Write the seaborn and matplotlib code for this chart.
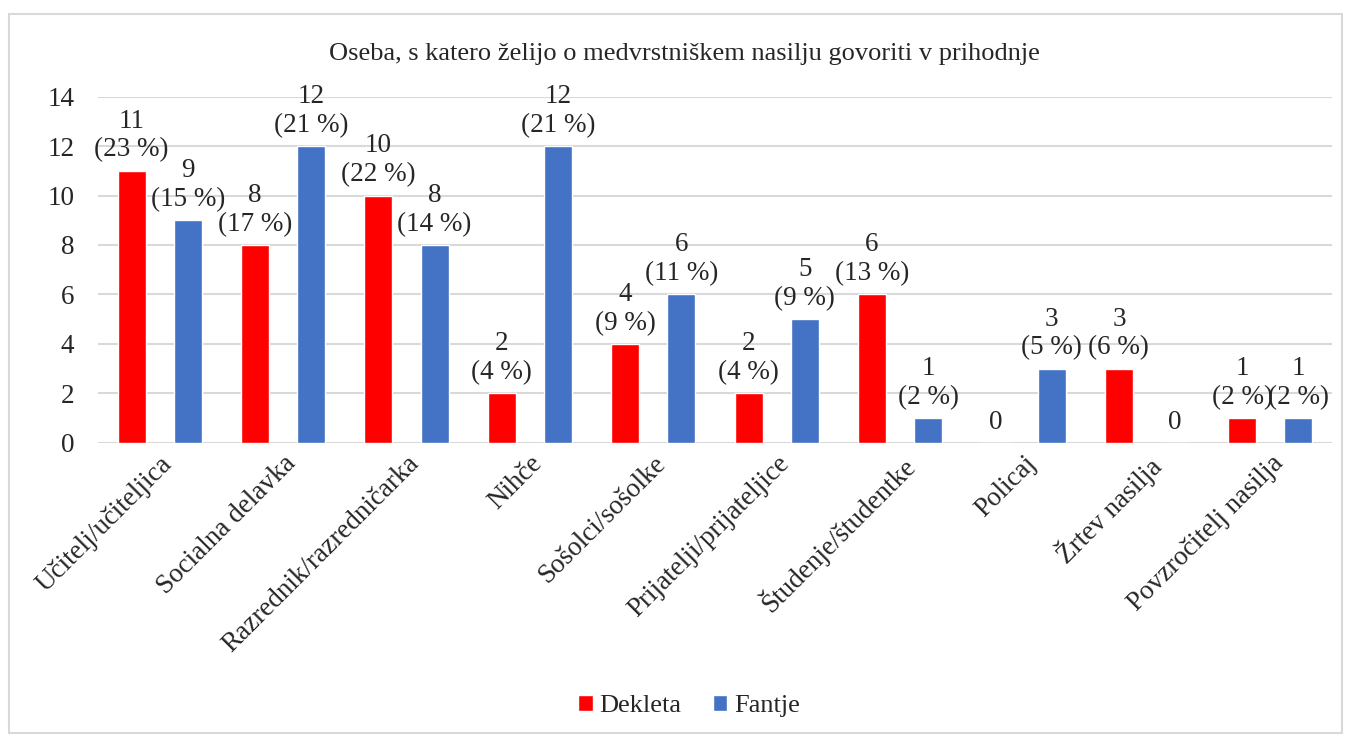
import matplotlib
matplotlib.use("Agg")
import matplotlib.pyplot as plt
import pandas as pd
import seaborn as sns
from matplotlib.patches import Rectangle

categories = [
    "Učitelj/učiteljica",
    "Socialna delavka",
    "Razrednik/razredničarka",
    "Nihče",
    "Sošolci/sošolke",
    "Prijatelji/prijateljice",
    "Študenje/študentke",
    "Policaj",
    "Žrtev nasilja",
    "Povzročitelj nasilja",
]
dekleta = [11, 8, 10, 2, 4, 2, 6, 0, 3, 1]
dekleta_pct = [23, 17, 22, 4, 9, 4, 13, 0, 6, 2]
fantje = [9, 12, 8, 12, 6, 5, 1, 3, 0, 1]
fantje_pct = [15, 21, 14, 21, 11, 9, 2, 5, 0, 2]
groups = ["Dekleta", "Fantje"]
colors = ["#FF0000", "#4472C4"]

frame = pd.DataFrame({
    "category": categories * 2,
    "group": [groups[0]] * len(categories) + [groups[1]] * len(categories),
    "count": dekleta + fantje,
    "pct": dekleta_pct + fantje_pct,
})

sns.set_theme(style="white")
plt.rcParams["font.family"] = ["Liberation Serif", "DejaVu Serif"]

fig = plt.figure(figsize=(13.51, 7.37), dpi=100)
ax = fig.add_axes([0.0725, 0.399, 0.9135, 0.47])

sns.barplot(
    data=frame, x="category", y="count", hue="group", palette=colors,
    width=0.91, gap=0.5, ax=ax, legend=True, saturation=1,
)

ax.set_ylim(0, 14)
ax.set_yticks(range(0, 15, 2))
ax.yaxis.grid(True, color="#D9D9D9", linewidth=1.5)
ax.set_axisbelow(True)
for spine in ax.spines.values():
    spine.set_visible(False)
ax.tick_params(axis="y", labelsize=19.5, length=0, pad=17)
ax.tick_params(axis="x", labelsize=19.5, length=0, pad=6)
ax.set_xlabel("")
ax.set_ylabel("")
plt.setp(ax.get_xticklabels(), rotation=45, ha="right", rotation_mode="anchor")

for container, pcts in zip(ax.containers, [dekleta_pct, fantje_pct]):
    for bar, pct in zip(container, pcts):
        value = bar.get_height()
        cx = bar.get_x() + bar.get_width() / 2
        if value == 0:
            text = "0"
        else:
            text = f"{int(value)}\n({pct} %)"
        ax.annotate(text, (cx, value), xytext=(0, 6), textcoords="offset points",
                    ha="center", va="bottom", fontsize=19.5, linespacing=1.2)

ax.set_title("Oseba, s katero želijo o medvrstniškem nasilju govoriti v prihodnje",
             fontsize=19, pad=26, x=0.475)

handles, labels = ax.get_legend_handles_labels()
ax.get_legend().remove()
fig.legend(handles, labels, loc="center", bbox_to_anchor=(0.51, 0.042), ncol=2,
           frameon=False, fontsize=19, handlelength=0.55, handleheight=0.55,
           handletextpad=0.25, columnspacing=1.2)

fig.patches.append(Rectangle((0.0067, 0.006), 0.9867, 0.975, transform=fig.transFigure,
                             fill=False, edgecolor="#D9D9D9", linewidth=1.5))

fig.savefig("out.png", dpi=100)
